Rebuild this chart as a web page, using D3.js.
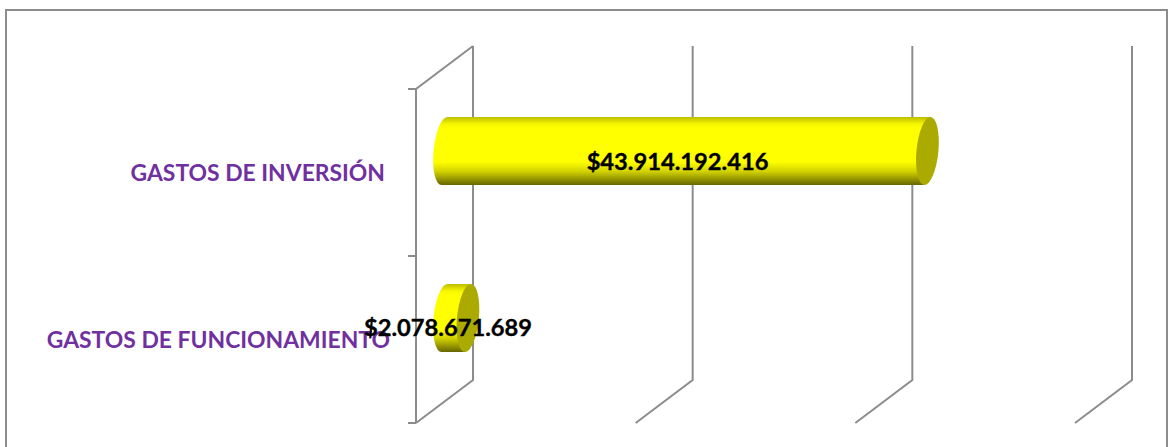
<!DOCTYPE html>
<html><head><meta charset="utf-8">
<script src="https://cdnjs.cloudflare.com/ajax/libs/d3/7.8.5/d3.min.js"></script>
<style>html,body{margin:0;padding:0;background:#fff;overflow:hidden}text{font-family:Lato,"Open Sans",sans-serif;font-weight:700}</style>
</head><body><svg id="c" width="1172" height="447"></svg>
<script>
const categories=["GASTOS DE FUNCIONAMIENTO","GASTOS DE INVERSIÓN"];
const values=[2078671689,43914192416];
const valueLabels=["$2.078.671.689","$43.914.192.416"];
const gridValues=[0,20e9,40e9,60e9];

const W=1172,H=447,grey="#8c8c8c";
const svg=d3.select("#c");
const depthX=57,depthY=43;
const x=d3.scaleLinear().domain([0,60e9]).range([416,1075]);
const y=d3.scaleBand().domain(categories).range([423,89]);
const barH=68,rx=11;
const midX=depthX/2,midY=-depthY/2;

const defs=svg.append("defs");
const g=defs.append("linearGradient").attr("id","cyl").attr("x1",0).attr("x2",0).attr("y1",0).attr("y2",1);
[[0,"#bdbd00"],[0.1,"#f5f500"],[0.16,"#ffff00"],[0.66,"#ffff00"],[0.8,"#d2d200"],[1,"#666600"]]
 .forEach(s=>g.append("stop").attr("offset",s[0]).attr("stop-color",s[1]));

svg.append("rect").attr("x",6).attr("y",10).attr("width",1161).attr("height",H).attr("fill","#fff").attr("stroke",grey).attr("stroke-width",2);

const lines=svg.append("g").attr("fill","none").attr("stroke",grey).attr("stroke-width",2);
gridValues.forEach(v=>{
  const fx=x(v);
  lines.append("path").attr("d",d3.line()([[fx,423],[fx+depthX,423-depthY],[fx+depthX,89-depthY]]));
});
lines.append("path").attr("d",d3.line()([[x(0),423],[x(0),89],[x(0)+depthX,89-depthY]]));
y.domain().concat(["__end"]).forEach((c,i)=>{
  const ty=423-i*y.bandwidth();
  lines.append("path").attr("d",d3.line()([[x(0)-8,ty],[x(0),ty]]));
});

const skew=-5;
const bars=svg.append("g").selectAll("g").data(categories).join("g")
  .attr("transform",(c)=>`translate(0,${y(c)+y.bandwidth()/2+midY})`);
bars.each(function(c,i){
  const s=d3.select(this);
  const x0=x(0)+midX, x1=x(values[i])+midX+0.6, r=barH/2;
  s.append("path").attr("fill","url(#cyl)")
   .attr("transform",`skewX(${skew})`)
   .attr("d",`M${x0},${-r}L${x1},${-r}L${x1},${r}L${x0},${r}A${rx} ${r} 0 0 1 ${x0},${-r}Z`)
   .attr("transform",`translate(${x0},0) skewX(${skew}) translate(${-x0},0)`);
  s.append("ellipse").attr("rx",rx).attr("ry",r).attr("fill","#aaaa00")
   .attr("transform",`translate(${x1},0) skewX(${skew})`);
});

const catText=svg.append("g").attr("fill","#7030a0").attr("font-size",22.9).attr("text-anchor","end");
catText.selectAll("text").data(categories).join("text")
  .attr("x",(c,i)=>[390,385][i]).attr("y",c=>y(c)+y.bandwidth()/2+8).text(c=>c);
const valText=svg.append("g").attr("fill","#000").attr("stroke","#000").attr("stroke-width",0.35).attr("font-size",23.7).attr("text-anchor","middle");
valText.selectAll("text").data(valueLabels).join("text")
  .attr("x",(d,i)=>[448,677.5][i]).attr("y",(d,i)=>[335.5,169.5][i]).text(d=>d);
</script></body></html>
